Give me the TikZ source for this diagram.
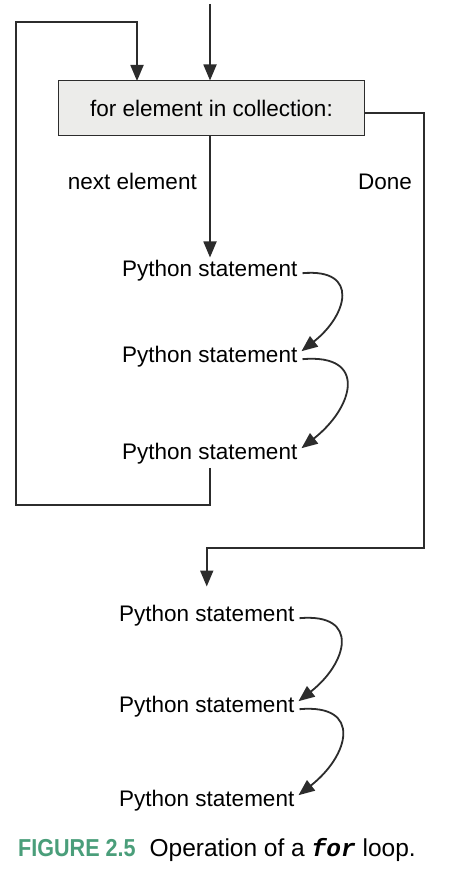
\documentclass[tikz,border=0pt]{standalone}
\usepackage{fontspec}
\setmainfont{Liberation Sans}
\setmonofont{Liberation Mono}
\usetikzlibrary{arrows.meta}
\definecolor{figgreen}{HTML}{4A9E7A}
\definecolor{boxgray}{HTML}{ECECEA}
\definecolor{inkgray}{HTML}{2C2C2C}
\tikzset{
  flow/.style={line width=1.8pt,color=inkgray},
  flowarr/.style={flow,-{Triangle[length=16pt,width=13pt]}},
  stmt/.style={font=\fontsize{22.5}{26}\selectfont,inner sep=0pt,anchor=base west},
  stepcurve/.style={flowarr,out=5,in=38,looseness=1.9},
}

\begin{document}
\begin{tikzpicture}[x=1pt,y=-1pt]
\useasboundingbox[fill=white] (0,0) rectangle (449,872);
\node[draw=inkgray,fill=boxgray,line width=1pt,minimum width=306pt,minimum height=54pt,
  font=\fontsize{22.5}{26}\selectfont,inner sep=0pt] (hdr) at (211.5,108) {for element in collection:};
\node[stmt] (s1) at (122,276) {Python statement};
\node[stmt] (s2) at (122,362) {Python statement};
\node[stmt] (s3) at (122,459) {Python statement};
\node[stmt] (s4) at (119,621) {Python statement};
\node[stmt] (s5) at (119,712) {Python statement};
\node[stmt] (s6) at (119,806) {Python statement};
\node[stmt,anchor=base east] (nxt) at (197,189) {next element};
\node[stmt] (done) at (358,189) {Done};
\coordinate (top) at (210,4);
\coordinate (lb) at (16,505);
\coordinate (lt) at (16,22);
\coordinate (lin) at (137,81);
\coordinate (dr) at (424,548);
% entry, loop back and exit
\draw[flowarr] (top) -- (top |- hdr.north);
\draw[flowarr,shorten >=2pt] (hdr.south -| top) -- (top |- s1.north);
\draw[flowarr,shorten <=4pt] (s3.south) |- (lb) -- (lt) -| (lin);
\draw[flowarr,shorten >=18pt] ([yshift=-5pt]hdr.east) -| (dr) -| (s4.north);
% statement to statement
\draw[stepcurve] ([xshift=5pt,yshift=-3pt]s1.east) to ([xshift=4pt,yshift=5pt]s2.east);
\draw[stepcurve] ([xshift=5pt,yshift=-3pt]s2.east) to ([xshift=4pt,yshift=5pt]s3.east);
\draw[stepcurve] ([xshift=5pt,yshift=-3pt]s4.east) to ([xshift=4pt,yshift=5pt]s5.east);
\draw[stepcurve] ([xshift=5pt,yshift=-3pt]s5.east) to ([xshift=4pt,yshift=5pt]s6.east);
\node[anchor=base west,inner sep=0pt,font=\fontsize{24.5}{28}\selectfont] (cap) at (18,856)
  {\textcolor{figgreen}{\scalebox{0.88}[1]{\bfseries FIGURE 2.5}}\hspace{14pt}Operation of a \textbf{\textit{\ttfamily for}} loop.};
\end{tikzpicture}
\end{document}
